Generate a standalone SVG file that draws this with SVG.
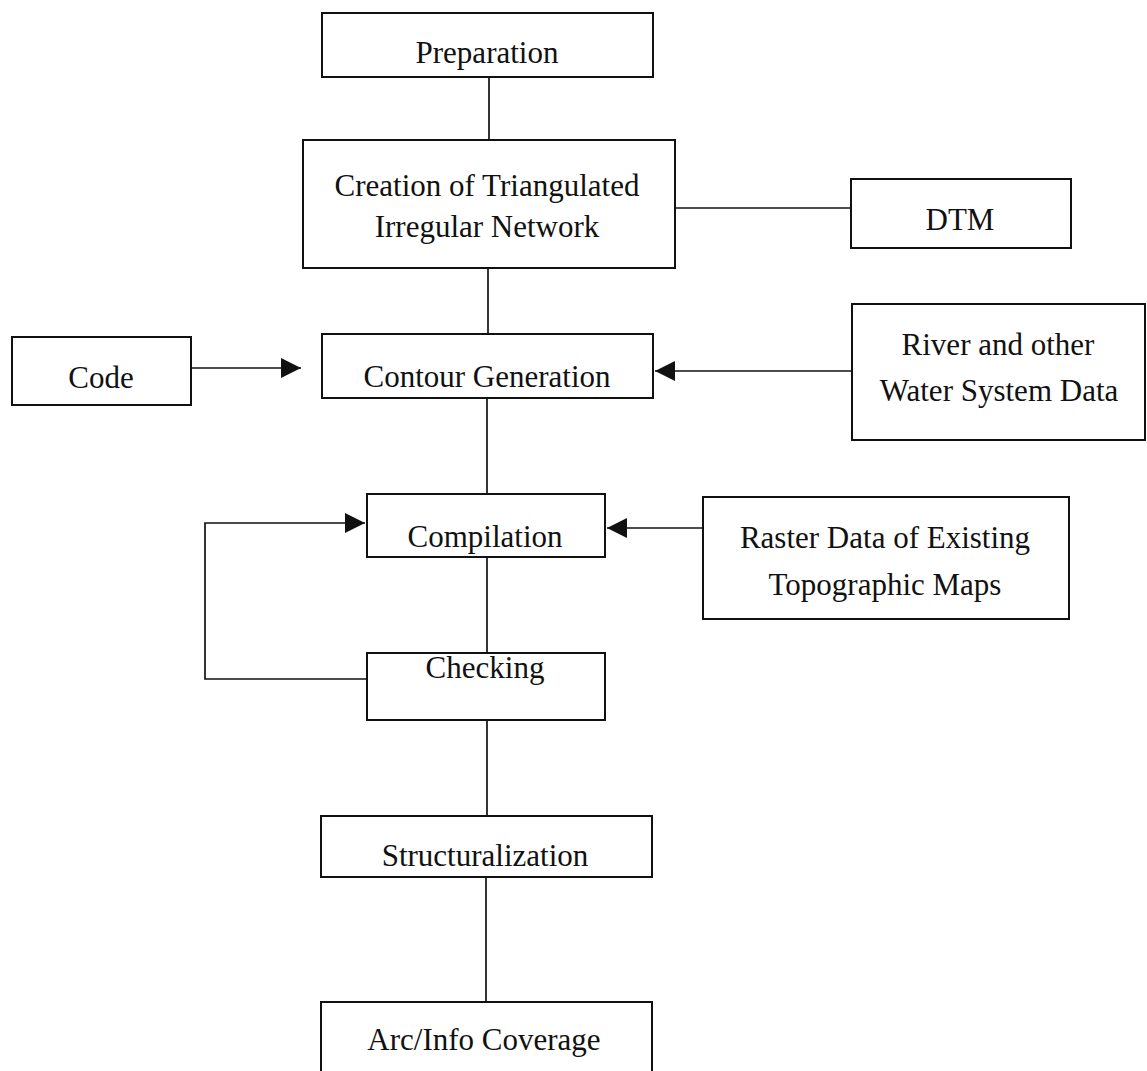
<svg xmlns="http://www.w3.org/2000/svg" width="1147" height="1071" viewBox="0 0 1147 1071">
<style>
.box{fill:#fff;stroke:#111;stroke-width:2}
.t{font-family:"Liberation Serif","Times New Roman",serif;font-size:31px;fill:#111;text-anchor:middle}
.ln{fill:none;stroke:#111;stroke-width:1.7}
</style>
<defs>
<marker id="ah" markerWidth="20" markerHeight="20" refX="20" refY="10" orient="auto" markerUnits="userSpaceOnUse" viewBox="0 0 20 20">
<path d="M0,0 L20,10 L0,20 Z" fill="#111"/>
</marker>
</defs>
<rect width="1147" height="1071" fill="#fff"/>
<g id="connectors">
<line class="ln" x1="489" y1="77" x2="489" y2="140"/>
<line class="ln" x1="675" y1="208" x2="851" y2="208"/>
<line class="ln" x1="488" y1="268" x2="488" y2="334"/>
<line class="ln" x1="191" y1="368" x2="301" y2="368" marker-end="url(#ah)"/>
<line class="ln" x1="852" y1="371" x2="655" y2="371" marker-end="url(#ah)"/>
<line class="ln" x1="487" y1="398" x2="487" y2="494"/>
<line class="ln" x1="703" y1="528" x2="607" y2="528" marker-end="url(#ah)"/>
<line class="ln" x1="487" y1="557" x2="487" y2="653"/>
<polyline class="ln" points="367,679 205,679 205,523 365,523" marker-end="url(#ah)"/>
<line class="ln" x1="487" y1="720" x2="487" y2="816"/>
<line class="ln" x1="486" y1="877" x2="486" y2="1002"/>
</g>
<g id="preparation"><rect class="box" x="322" y="13" width="331" height="64"/><text class="t" x="487" y="63">Preparation</text></g>
<g id="creation"><rect class="box" x="303" y="140" width="372" height="128"/><text class="t" x="487" y="196">Creation of Triangulated</text><text class="t" x="487" y="237">Irregular Network</text></g>
<g id="dtm"><rect class="box" x="851" y="179" width="220" height="69"/><text class="t" x="960" y="230">DTM</text></g>
<g id="code"><rect class="box" x="12" y="337" width="179" height="68"/><text class="t" x="101" y="388">Code</text></g>
<g id="contour"><rect class="box" x="322" y="334" width="331" height="64"/><text class="t" x="487" y="387">Contour Generation</text></g>
<g id="river"><rect class="box" x="852" y="304" width="293" height="136"/><text class="t" x="998" y="355">River and other</text><text class="t" x="999" y="401">Water System Data</text></g>
<g id="compilation"><rect class="box" x="367" y="494" width="238" height="63"/><text class="t" x="485" y="547">Compilation</text></g>
<g id="raster"><rect class="box" x="703" y="497" width="366" height="122"/><text class="t" x="885" y="548">Raster Data of Existing</text><text class="t" x="885" y="595">Topographic Maps</text></g>
<g id="checking"><rect class="box" x="367" y="653" width="238" height="67"/><text class="t" x="485" y="678">Checking</text></g>
<g id="structuralization"><rect class="box" x="321" y="816" width="331" height="61"/><text class="t" x="485" y="866">Structuralization</text></g>
<g id="arcinfo"><rect class="box" x="321" y="1002" width="331" height="90"/><text class="t" x="484" y="1050">Arc/Info Coverage</text></g>
</svg>
